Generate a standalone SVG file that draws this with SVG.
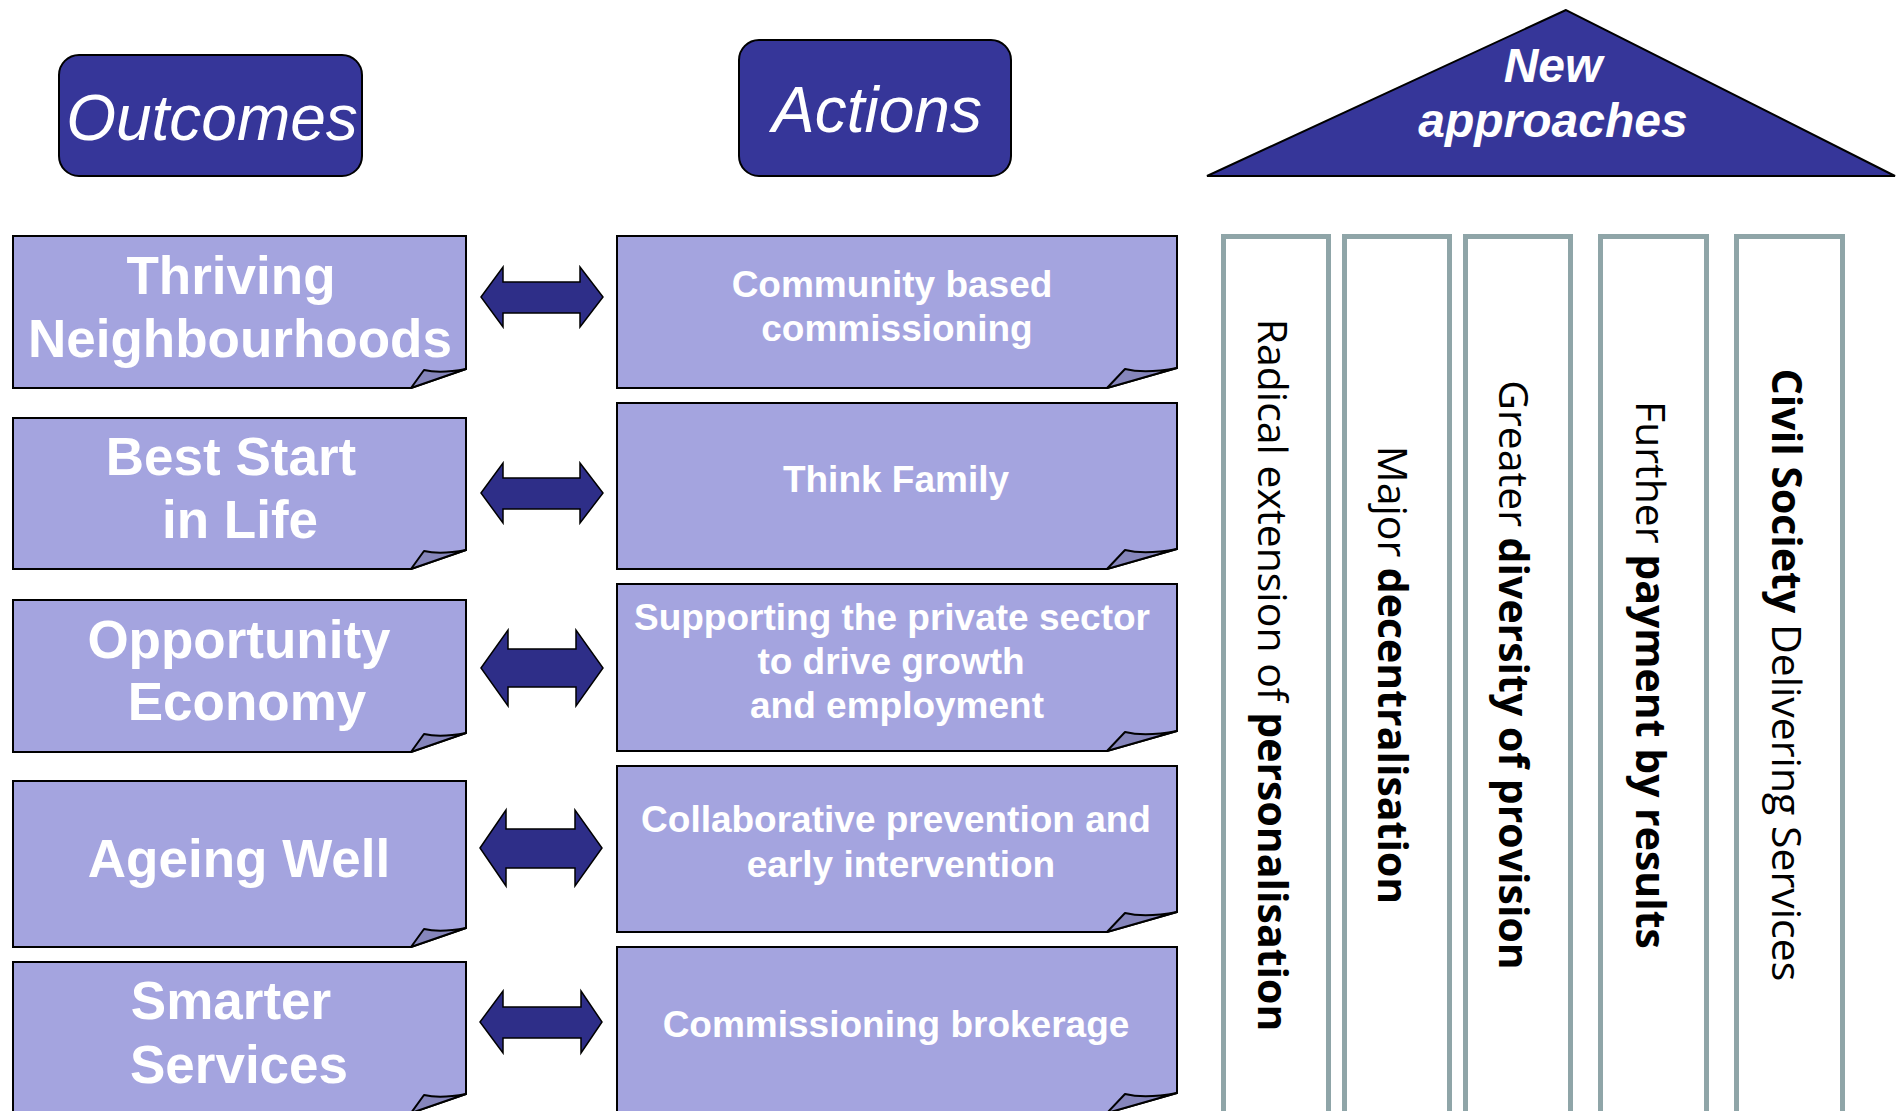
<svg xmlns="http://www.w3.org/2000/svg" width="1898" height="1111" viewBox="0 0 1898 1111">
<style>
.hdr{fill:#363699;stroke:#000;stroke-width:2}
.box{fill:#a4a4df;stroke:#000;stroke-width:2}
.flap{fill:#8686bc;stroke:#000;stroke-width:2;stroke-linejoin:round}
.arr{fill:#2e2e88;stroke:#000;stroke-width:1.5}
.pil{fill:#fff;stroke:#8fa5a8;stroke-width:5}
.ot{font-family:"Liberation Sans",Arial,sans-serif;font-weight:bold;font-size:53px;fill:#fff;text-anchor:middle}
.at{font-family:"Liberation Sans",Arial,sans-serif;font-weight:bold;font-size:37px;fill:#fff;text-anchor:middle}
.ht{font-family:"Liberation Sans",Arial,sans-serif;font-style:italic;fill:#fff;text-anchor:middle}
.pt{font-family:"Open Sans","Noto Sans",sans-serif;font-size:41px;fill:#000;text-anchor:middle}
.b{font-weight:bold}
</style>
<rect width="1898" height="1111" fill="#fff"/>

<g id="outcomes-header">
<rect class="hdr" x="59" y="55" width="303" height="121" rx="20"/>
<text class="ht" x="212" y="140" font-size="64">Outcomes</text>
</g>
<g id="actions-header">
<rect class="hdr" x="739" y="40" width="272" height="136" rx="20"/>
<text class="ht" x="877" y="132" font-size="64">Actions</text>
</g>
<g id="new-approaches">
<polygon class="hdr" points="1566,10 1207,176 1895,176"/>
<text class="ht" font-weight="bold" font-size="48" x="1553" y="82">New</text>
<text class="ht" font-weight="bold" font-size="48" x="1553" y="137">approaches</text>
</g>

<g id="o1">
<path class="box" d="M13,236H466V369L411,388H13Z"/>
<path class="flap" d="M411,388L424,370Q440,374 466,369Z"/>
<text class="ot" x="231" y="294">Thriving</text>
<text class="ot" x="240" y="357">Neighbourhoods</text>
</g>
<g id="o2">
<path class="box" d="M13,418H466V550L411,569H13Z"/>
<path class="flap" d="M411,569L424,551Q440,555 466,550Z"/>
<text class="ot" x="231" y="475">Best Start</text>
<text class="ot" x="240" y="538">in Life</text>
</g>
<g id="o3">
<path class="box" d="M13,600H466V733L411,752H13Z"/>
<path class="flap" d="M411,752L424,734Q440,738 466,733Z"/>
<text class="ot" x="239" y="658">Opportunity</text>
<text class="ot" x="247" y="720">Economy</text>
</g>
<g id="o4">
<path class="box" d="M13,781H466V928L411,947H13Z"/>
<path class="flap" d="M411,947L424,929Q440,933 466,928Z"/>
<text class="ot" x="239" y="877">Ageing Well</text>
</g>
<g id="o5">
<path class="box" d="M13,962H466V1094L411,1113H13Z"/>
<path class="flap" d="M411,1113L424,1095Q440,1099 466,1094Z"/>
<text class="ot" x="231" y="1019">Smarter</text>
<text class="ot" x="239" y="1083">Services</text>
</g>

<g id="a1">
<path class="box" d="M617,236H1177V368L1107,388H617Z"/>
<path class="flap" d="M1107,388L1125,369Q1145,374 1177,368Z"/>
<text class="at" x="892" y="297">Community based</text>
<text class="at" x="897" y="341">commissioning</text>
</g>
<g id="a2">
<path class="box" d="M617,403H1177V549L1107,569H617Z"/>
<path class="flap" d="M1107,569L1125,550Q1145,555 1177,549Z"/>
<text class="at" x="896" y="492">Think Family</text>
</g>
<g id="a3">
<path class="box" d="M617,584H1177V731L1107,751H617Z"/>
<path class="flap" d="M1107,751L1125,732Q1145,737 1177,731Z"/>
<text class="at" x="892" y="630">Supporting the private sector</text>
<text class="at" x="891" y="674">to drive growth</text>
<text class="at" x="897" y="718">and employment</text>
</g>
<g id="a4">
<path class="box" d="M617,766H1177V912L1107,932H617Z"/>
<path class="flap" d="M1107,932L1125,913Q1145,918 1177,912Z"/>
<text class="at" x="896" y="832">Collaborative prevention and</text>
<text class="at" x="901" y="877">early intervention</text>
</g>
<g id="a5">
<path class="box" d="M617,947H1177V1093L1107,1113H617Z"/>
<path class="flap" d="M1107,1113L1125,1094Q1145,1099 1177,1093Z"/>
<text class="at" x="896" y="1037">Commissioning brokerage</text>
</g>

<g id="connectors">
<polygon class="arr" points="481,297 503,267 503,282 580,282 580,267 603,297 580,327 580,313 503,313 503,327"/>
<polygon class="arr" points="481,493 503,463 503,478 580,478 580,463 603,493 580,523 580,509 503,509 503,523"/>
<polygon class="arr" points="481,668 508,630 508,649 576,649 576,630 603,668 576,706 576,687 508,687 508,706"/>
<polygon class="arr" points="480,848 506,810 506,829 575,829 575,810 602,848 575,886 575,868 506,868 506,886"/>
<polygon class="arr" points="480,1022 503,991 503,1007 581,1007 581,991 602,1022 581,1053 581,1038 503,1038 503,1053"/>
</g>

<g id="p1">
<rect class="pil" x="1223.5" y="236.5" width="105" height="900"/>
<text class="pt" transform="translate(1258,675) rotate(90)">Radical extension of <tspan class="b">personalisation</tspan></text>
</g>
<g id="p2">
<rect class="pil" x="1344.5" y="236.5" width="105" height="900"/>
<text class="pt" transform="translate(1378,675) rotate(90)">Major <tspan class="b">decentralisation</tspan></text>
</g>
<g id="p3">
<rect class="pil" x="1465.5" y="236.5" width="105" height="900"/>
<text class="pt" transform="translate(1499,675) rotate(90)">Greater <tspan class="b">diversity of provision</tspan></text>
</g>
<g id="p4">
<rect class="pil" x="1600.5" y="236.5" width="106" height="900"/>
<text class="pt" transform="translate(1636,675) rotate(90)">Further <tspan class="b">payment by results</tspan></text>
</g>
<g id="p5">
<rect class="pil" x="1736.5" y="236.5" width="106" height="900"/>
<text class="pt" transform="translate(1772,675) rotate(90)"><tspan class="b">Civil Society</tspan> Delivering Services</text>
</g>
</svg>
